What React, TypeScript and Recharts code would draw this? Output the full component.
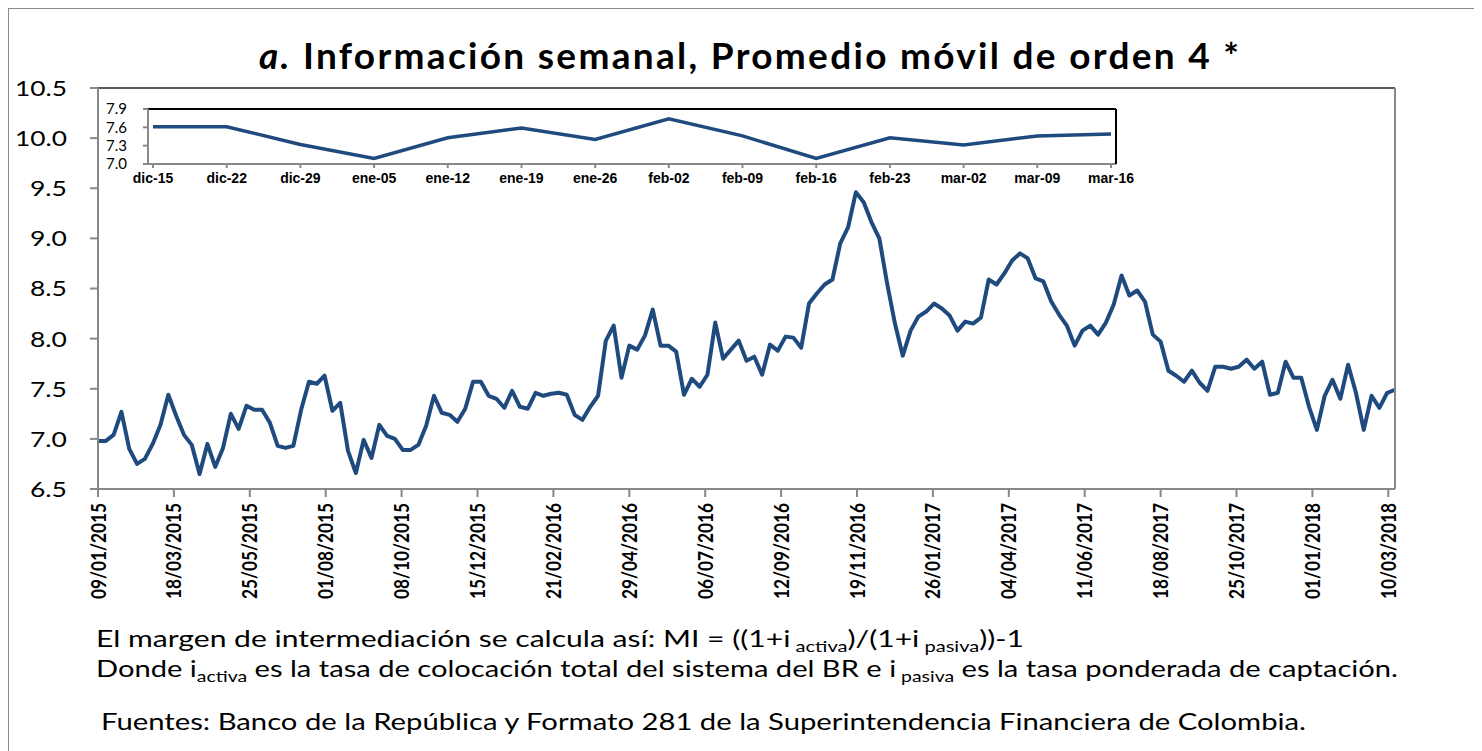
import { LineChart, Line, XAxis, YAxis, ReferenceLine } from 'recharts';

// Promedio móvil de orden 4 del margen de intermediación, semanal desde 09/01/2015 (viernes)
const MARGIN_SERIES = [
  6.98, 6.98, 7.04, 7.27, 6.9, 6.75, 6.8, 6.95, 7.14, 7.44,
  7.23, 7.04, 6.94, 6.65, 6.95, 6.72, 6.91, 7.25, 7.1, 7.33,
  7.29, 7.29, 7.16, 6.93, 6.91, 6.93, 7.29, 7.57, 7.55, 7.63,
  7.28, 7.36, 6.88, 6.66, 6.99, 6.81, 7.14, 7.03, 7.0, 6.89,
  6.89, 6.94, 7.13, 7.43, 7.26, 7.24, 7.17, 7.3, 7.57, 7.57,
  7.43, 7.4, 7.31, 7.48, 7.32, 7.3, 7.46, 7.43, 7.45, 7.46,
  7.44, 7.24, 7.19, 7.32, 7.43, 7.98, 8.13, 7.61, 7.93, 7.89,
  8.03, 8.29, 7.93, 7.93, 7.87, 7.44, 7.6, 7.52, 7.64, 8.16,
  7.8, 7.89, 7.98, 7.78, 7.82, 7.64, 7.94, 7.88, 8.02, 8.01,
  7.91, 8.35, 8.45, 8.54, 8.59, 8.95, 9.11, 9.46, 9.36, 9.16,
  9.0, 8.55, 8.15, 7.83, 8.08, 8.22, 8.27, 8.35, 8.3, 8.23,
  8.08, 8.17, 8.15, 8.21, 8.59, 8.54, 8.65, 8.78, 8.85, 8.8,
  8.6, 8.57, 8.37, 8.24, 8.13, 7.93, 8.08, 8.13, 8.04, 8.16,
  8.34, 8.63, 8.43, 8.48, 8.37, 8.04, 7.97, 7.68, 7.63, 7.57,
  7.68, 7.56, 7.48, 7.72, 7.72, 7.7, 7.72, 7.79, 7.7, 7.77,
  7.44, 7.46, 7.77, 7.61, 7.61, 7.32, 7.09, 7.43, 7.59, 7.4,
  7.74, 7.46, 7.09, 7.43, 7.31, 7.46, 7.49,
];

const DATE_TICK_LABELS = [
  '09/01/2015', '18/03/2015', '25/05/2015', '01/08/2015', '08/10/2015', '15/12/2015',
  '21/02/2016', '29/04/2016', '06/07/2016', '12/09/2016', '19/11/2016', '26/01/2017',
  '04/04/2017', '11/06/2017', '18/08/2017', '25/10/2017', '01/01/2018', '10/03/2018',
];
const TICK_STEP_DAYS = 68;

const MAIN_Y_TICKS = [6.5, 7.0, 7.5, 8.0, 8.5, 9.0, 9.5, 10.0, 10.5];

// últimas 14 semanas (recuadro)
const INSET_WEEKS = [
  'dic-15', 'dic-22', 'dic-29', 'ene-05', 'ene-12', 'ene-19', 'ene-26',
  'feb-02', 'feb-09', 'feb-16', 'feb-23', 'mar-02', 'mar-09', 'mar-16',
];
const INSET_Y_TICKS = [7.0, 7.3, 7.6, 7.9];

const LINE_COLOR = '#1F4A7E';
const AXIS_COLOR = '#888888';
const FONT = 'Lato, "Open Sans", sans-serif';

const mainData = MARGIN_SERIES.map((v, i) => ({ day: i * 7, value: v }));
const tickDays = DATE_TICK_LABELS.map((_, i) => i * TICK_STEP_DAYS);
const insetValues = MARGIN_SERIES.slice(-INSET_WEEKS.length);
const insetData = INSET_WEEKS.map((w, i) => ({ week: w, value: insetValues[i] }));

const DateTick = ({ x, y, payload }: any) => {
  const idx = Math.round(payload.value / TICK_STEP_DAYS);
  const ty = y + 4;
  return (
    <text
      x={x}
      y={ty}
      transform={`rotate(-90, ${x}, ${ty})`}
      textAnchor="end"
      dy="0.36em"
      fontFamily={FONT}
      fontWeight={700}
      fontSize={21}
      textLength={96}
      lengthAdjust="spacingAndGlyphs"
      fill="#000"
    >
      {DATE_TICK_LABELS[idx]}
    </text>
  );
};

const ValueTick = ({ x, y, payload, textAnchor }: any) => {
  const label = Number(payload.value).toFixed(1);
  return (
    <text
      x={x}
      y={y}
      dy="0.36em"
      textAnchor={textAnchor}
      fontFamily={FONT}
      fontSize={22}
      textLength={label.length > 3 ? 52 : 37}
      lengthAdjust="spacingAndGlyphs"
      fill="#000"
    >
      {label}
    </text>
  );
};

const axisLine = { stroke: AXIS_COLOR, strokeWidth: 2 };

export default function App() {
  return (
    <div
      style={{
        position: 'relative',
        width: 1466,
        height: 760,
        margin: '-1px 0 0 -1px',
        border: '2px solid #8a8a8a',
        background: '#fff',
        fontFamily: FONT,
      }}
    >
      {/* gráfico principal */}
      <LineChart
        width={1466}
        height={600}
        data={mainData}
        margin={{ top: 79, right: 20, bottom: 0, left: 29 }}
        style={{ position: 'absolute', left: 0, top: 0 }}
      >
        <XAxis
          dataKey="day"
          type="number"
          domain={[0, 1162]}
          ticks={tickDays}
          interval={0}
          height={120}
          tickSize={8}
          axisLine={axisLine}
          tickLine={axisLine}
          tick={<DateTick />}
        />
        <YAxis
          yAxisId="left"
          domain={[6.5, 10.5]}
          ticks={MAIN_Y_TICKS}
          interval={0}
          width={60}
          tickSize={8}
          tickMargin={23}
          axisLine={axisLine}
          tickLine={axisLine}
          tick={<ValueTick />}
        />
        <YAxis
          yAxisId="right"
          orientation="right"
          domain={[6.5, 10.5]}
          ticks={MAIN_Y_TICKS}
          interval={0}
          width={60}
          tickSize={8}
          tickMargin={23}
          axisLine={axisLine}
          tickLine={axisLine}
          tick={<ValueTick />}
        />
        <ReferenceLine yAxisId="left" y={10.5} stroke="#222" strokeWidth={1.5} />
        <Line
          yAxisId="left"
          dataKey="value"
          stroke={LINE_COLOR}
          strokeWidth={4}
          dot={false}
          strokeLinejoin="round"
          isAnimationActive={false}
        />
      </LineChart>

      {/* recuadro: últimas semanas */}
      <div style={{ position: 'absolute', left: 60, top: 80 }}>
        <LineChart
          width={1090}
          height={110}
          data={insetData}
          margin={{ top: 20, right: 42, bottom: 0, left: 19 }}
        >
          <XAxis
            dataKey="week"
            padding={{ left: 5, right: 5 }}
            interval={0}
            height={35}
            tickSize={4}
            tickMargin={5}
            axisLine={axisLine}
            tickLine={axisLine}
            tick={{ fill: '#000', fontSize: 14, fontWeight: 700, fontFamily: '"Liberation Sans", Arial, sans-serif' }}
          />
          <YAxis
            yAxisId="l"
            domain={[7.0, 7.9]}
            ticks={INSET_Y_TICKS}
            interval={0}
            width={60}
            tickSize={5}
            tickMargin={16}
            axisLine={axisLine}
            tickLine={axisLine}
            tickFormatter={(v: number) => v.toFixed(1)}
            tick={{ fill: '#000', fontSize: 15, fontFamily: FONT }}
          />
          <YAxis
            yAxisId="r"
            orientation="right"
            domain={[7.0, 7.9]}
            width={1}
            tick={false}
            tickLine={false}
            axisLine={{ stroke: '#000', strokeWidth: 2 }}
          />
          <ReferenceLine yAxisId="l" y={7.9} stroke="#000" strokeWidth={2} />
          <Line
            yAxisId="l"
            dataKey="value"
            stroke={LINE_COLOR}
            strokeWidth={3.5}
            dot={false}
            isAnimationActive={false}
          />
        </LineChart>
      </div>

      {/* título y notas */}
      <svg
        width={1466}
        height={760}
        style={{ position: 'absolute', left: 0, top: 0, pointerEvents: 'none' }}
        fontFamily={FONT}
      >
        <text x={740} y={60} textAnchor="middle" fontSize={37} fontWeight={700} textLength={980} fill="#000">
          <tspan fontStyle="italic">a.</tspan> Información semanal, Promedio móvil de orden 4 *
        </text>
        <text x={87} y={638} fontSize={24} textLength={928} lengthAdjust="spacingAndGlyphs" fill="#000">
          El margen de intermediación se calcula así: MI = ((1+i
          <tspan fontSize={16} dy={5}> activa</tspan>
          <tspan dy={-5}>)/(1+i</tspan>
          <tspan fontSize={16} dy={5}> pasiva</tspan>
          <tspan dy={-5}>))-1</tspan>
        </text>
        <text x={87} y={668} fontSize={24} textLength={1302} lengthAdjust="spacingAndGlyphs" fill="#000">
          Donde i
          <tspan fontSize={16} dy={5}>activa</tspan>
          <tspan dy={-5}> es la tasa de colocación total del sistema del BR e i</tspan>
          <tspan fontSize={16} dy={5}> pasiva</tspan>
          <tspan dy={-5}> es la tasa ponderada de captación.</tspan>
        </text>
        <text x={92} y={721} fontSize={24} textLength={1205} lengthAdjust="spacingAndGlyphs" fill="#000">
          Fuentes: Banco de la República y Formato 281 de la Superintendencia Financiera de Colombia.
        </text>
      </svg>
    </div>
  );
}
